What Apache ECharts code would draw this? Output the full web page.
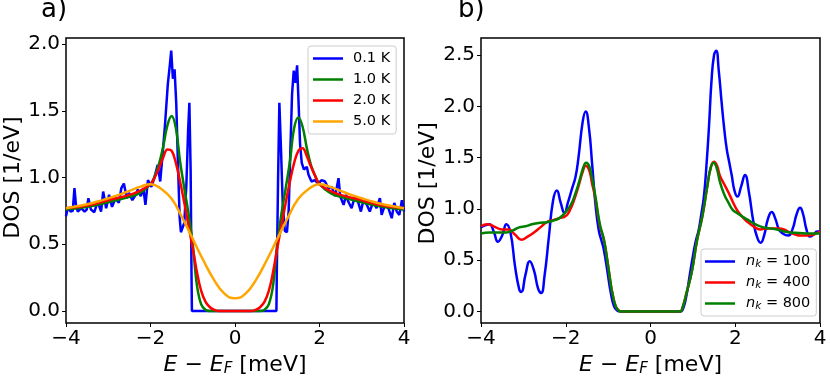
<!DOCTYPE html>
<html>
<head>
<meta charset="utf-8">
<script src="https://cdn.jsdelivr.net/npm/echarts@6.0.0/dist/echarts.min.js"></script>
<style>
  html, body { margin: 0; padding: 0; background: #fff; }
  #chart { width: 830px; height: 376px; }
</style>
</head>
<body>
<div id="chart"></div>
<script>
// ---- panel a) DOS for several temperatures ----
const tempNames = ['0.1 K', '1.0 K', '2.0 K', '5.0 K'];

const blueAX = [-4.00, -3.96, -3.89, -3.84, -3.80, -3.76, -3.72, -3.64, -3.56, -3.51, -3.47, -3.41, -3.33, -3.25, -3.17, -3.12, -3.05, -2.98, -2.91, -2.83,
  -2.75, -2.69, -2.63, -2.56, -2.51, -2.43, -2.35, -2.30, -2.23, -2.17, -2.12, -2.06, -1.98, -1.91, -1.83, -1.77, -1.72, -1.66, -1.59, -1.54,
  -1.51, -1.47, -1.43, -1.39, -1.35, -1.31, -1.28, -1.24, -1.20, -1.15, -1.11, -1.08, -1.05, -1.03, -1.02,
  0.98, 0.99, 1.02, 1.05, 1.09, 1.13, 1.18, 1.23, 1.27, 1.31, 1.35, 1.39, 1.43, 1.47, 1.50, 1.54, 1.58, 1.63, 1.70, 1.74,
  1.81, 1.89, 1.97, 2.05, 2.13, 2.21, 2.29, 2.37, 2.45, 2.49, 2.57, 2.63, 2.68, 2.76, 2.84, 2.92, 2.98, 3.04, 3.12, 3.19,
  3.27, 3.35, 3.43, 3.47, 3.55, 3.63, 3.71, 3.77, 3.83, 3.89, 3.95, 4.00];
const blueAY = [0.71, 0.77, 0.745, 0.75, 0.92, 0.78, 0.745, 0.77, 0.745, 0.76, 0.845, 0.76, 0.74, 0.82, 0.745, 0.895, 0.77, 0.87, 0.78, 0.845,
  0.81, 0.92, 0.955, 0.845, 0.885, 0.83, 0.87, 0.91, 0.86, 0.92, 0.795, 0.98, 0.93, 0.995, 1.095, 0.97, 1.15, 1.38, 1.70, 1.85,
  1.95, 1.74, 1.81, 1.55, 1.10, 0.70, 0.59, 0.58, 0.66, 0.95, 1.35, 1.56, 1.05, 0.30, 0.0,
  0.0, 0.30, 1.00, 1.56, 1.20, 0.80, 0.60, 0.59, 0.75, 1.20, 1.62, 1.80, 1.71, 1.84, 1.60, 1.25, 1.11, 1.06, 1.08, 1.02,
  0.97, 0.98, 0.955, 0.98, 0.97, 0.92, 0.93, 0.86, 0.995, 0.86, 0.795, 0.87, 0.82, 0.77, 0.86, 0.81, 0.745, 0.83, 0.795, 0.745,
  0.82, 0.77, 0.845, 0.72, 0.795, 0.77, 0.695, 0.81, 0.745, 0.72, 0.83, 0.745];

const smoothAX = [-4, -3.5, -3, -2.5, -2.25, -2, -1.9, -1.8, -1.7, -1.6, -1.5, -1.4, -1.3, -1.2, -1.1, -1, -0.9, -0.8, -0.7, -0.6, -0.5, -0.4, 0,
  0.4, 0.5, 0.6, 0.7, 0.8, 0.9, 1, 1.1, 1.2, 1.3, 1.4, 1.5, 1.6, 1.7, 1.8, 1.9, 2, 2.25, 2.5, 3, 3.5, 4];
const greenAY = [0.76, 0.78, 0.815, 0.855, 0.885, 0.95, 1.01, 1.10, 1.23, 1.39, 1.46, 1.37, 1.12, 0.92, 0.73, 0.50, 0.19, 0.05, 0.01, 0, 0, 0, 0,
  0, 0, 0, 0.01, 0.05, 0.19, 0.50, 0.73, 0.92, 1.12, 1.37, 1.45, 1.38, 1.22, 1.09, 1.01, 0.95, 0.885, 0.855, 0.815, 0.78, 0.76];
const redAY = [0.77, 0.79, 0.83, 0.87, 0.90, 0.95, 1.00, 1.07, 1.15, 1.21, 1.20, 1.11, 0.97, 0.81, 0.64, 0.47, 0.29, 0.15, 0.07, 0.03, 0.01, 0, 0,
  0, 0.01, 0.03, 0.07, 0.15, 0.29, 0.47, 0.64, 0.81, 0.97, 1.11, 1.20, 1.22, 1.16, 1.08, 1.01, 0.95, 0.90, 0.87, 0.83, 0.79, 0.77];

const orangeAX = [-4, -3.75, -3.5, -3.25, -3, -2.75, -2.5, -2.25, -2, -1.75, -1.5, -1.25, -1, -0.75, -0.5, -0.25, 0,
  0.25, 0.5, 0.75, 1, 1.25, 1.5, 1.75, 2, 2.25, 2.5, 2.75, 3, 3.25, 3.5, 3.75, 4];
const orangeAY = [0.77, 0.785, 0.80, 0.82, 0.845, 0.87, 0.90, 0.93, 0.95, 0.915, 0.84, 0.70, 0.54, 0.38, 0.235, 0.13, 0.095,
  0.13, 0.235, 0.38, 0.54, 0.70, 0.84, 0.915, 0.95, 0.93, 0.90, 0.87, 0.845, 0.82, 0.80, 0.785, 0.77];

// ---- panel b) DOS for several k-grids ----
const nkValues = ['100', '400', '800'];

const blueBX = [-4.0, -3.9, -3.8, -3.7, -3.6, -3.5, -3.4, -3.3, -3.2, -3.1, -3.05, -2.95, -2.85, -2.75, -2.65, -2.58, -2.5, -2.4, -2.3, -2.21,
  -2.12, -2.03, -1.95, -1.85, -1.77, -1.7, -1.6, -1.53, -1.45, -1.38, -1.3, -1.22, -1.15, -1.1, -1.02, -0.94, -0.86, -0.79, -0.7,
  0.7, 0.77, 0.85, 0.92, 0.98, 1.06, 1.14, 1.2, 1.26, 1.32, 1.38, 1.44, 1.5, 1.55, 1.61, 1.68, 1.74, 1.8, 1.86, 1.92, 1.98,
  2.05, 2.14, 2.23, 2.32, 2.43, 2.52, 2.6, 2.68, 2.77, 2.86, 2.95, 3.03, 3.12, 3.25, 3.35, 3.45, 3.53, 3.6, 3.68, 3.76, 3.85, 3.93, 4.0];
const blueBY = [0.82, 0.84, 0.85, 0.78, 0.68, 0.74, 0.85, 0.76, 0.45, 0.22, 0.19, 0.36, 0.49, 0.40, 0.22, 0.18, 0.35, 0.72, 1.08, 1.18,
  1.06, 0.96, 1.06, 1.20, 1.31, 1.50, 1.85, 1.95, 1.78, 1.45, 1.05, 0.79, 0.68, 0.60, 0.40, 0.19, 0.05, 0.01, 0,
  0, 0.03, 0.16, 0.34, 0.49, 0.67, 0.80, 0.95, 1.12, 1.42, 1.80, 2.25, 2.50, 2.54, 2.35, 2.03, 1.78, 1.58, 1.45, 1.32, 1.18,
  1.12, 1.22, 1.33, 1.17, 0.87, 0.72, 0.67, 0.74, 0.90, 0.97, 0.90, 0.80, 0.76, 0.74, 0.80, 0.95, 1.01, 0.95, 0.80, 0.73, 0.75, 0.78, 0.78];

const redBX = [-4.0, -3.85, -3.7, -3.5, -3.35, -3.2, -3.05, -2.9, -2.75, -2.6, -2.45, -2.3, -2.15, -2.0, -1.9, -1.8, -1.7, -1.6, -1.53, -1.45,
  -1.38, -1.3, -1.2, -1.1, -1.02, -0.95, -0.9, -0.82, -0.75, -0.7,
  0.7, 0.75, 0.85, 0.98, 1.1, 1.22, 1.34, 1.42, 1.5, 1.57, 1.64, 1.74, 1.84, 1.94, 2.04, 2.15, 2.27, 2.43, 2.59, 2.75,
  2.9, 3.05, 3.15, 3.29, 3.42, 3.53, 3.7, 3.85, 4.0];
const redBY = [0.83, 0.85, 0.83, 0.80, 0.80, 0.75, 0.70, 0.73, 0.77, 0.82, 0.87, 0.89, 0.91, 0.93, 0.99, 1.09, 1.22, 1.36, 1.42, 1.38,
  1.25, 1.10, 0.84, 0.70, 0.50, 0.30, 0.18, 0.05, 0.01, 0,
  0, 0.03, 0.18, 0.40, 0.70, 0.92, 1.22, 1.40, 1.46, 1.42, 1.32, 1.24, 1.16, 1.07, 0.99, 0.93, 0.88, 0.83, 0.80, 0.81,
  0.81, 0.81, 0.80, 0.77, 0.75, 0.74, 0.74, 0.75, 0.78];

const greenBX = [-4.0, -3.8, -3.6, -3.4, -3.25, -3.1, -2.95, -2.8, -2.6, -2.45, -2.3, -2.15, -2.0, -1.88, -1.78, -1.68, -1.58, -1.52, -1.45,
  -1.38, -1.3, -1.2, -1.1, -1.02, -0.95, -0.9, -0.82, -0.75, -0.7,
  0.7, 0.75, 0.85, 0.98, 1.1, 1.22, 1.34, 1.42, 1.49, 1.56, 1.64, 1.74, 1.84, 1.94, 2.04, 2.15, 2.27, 2.43, 2.59, 2.8,
  2.98, 3.15, 3.29, 3.5, 3.75, 4.0];
const greenBY = [0.76, 0.77, 0.77, 0.77, 0.79, 0.82, 0.83, 0.85, 0.865, 0.87, 0.885, 0.91, 0.97, 1.04, 1.14, 1.27, 1.41, 1.45, 1.42,
  1.30, 1.12, 0.86, 0.70, 0.50, 0.30, 0.18, 0.05, 0.01, 0,
  0, 0.03, 0.18, 0.40, 0.70, 0.92, 1.22, 1.40, 1.45, 1.40, 1.26, 1.14, 1.06, 0.99, 0.96, 0.93, 0.90, 0.86, 0.83, 0.81,
  0.80, 0.78, 0.77, 0.765, 0.76, 0.76];

const xTicks = [-4, 4, 2];          // min, max, step
const yTicksA = [0, 2.0, 0.5];
const yTicksB = [0, 2.5, 0.5];

const FONT = 'DejaVu Sans';
const pair = (xs, ys) => xs.map((x, i) => [x, ys[i]]);
const minus = v => (v < 0 ? '\u2212' + Math.abs(v) : String(v));

const chart = echarts.init(document.getElementById('chart'), null, { renderer: 'canvas' });

function plotX(gridIndex) {
  return {
    gridIndex: gridIndex, type: 'value', min: xTicks[0], max: xTicks[1], interval: xTicks[2],
    axisLine: { show: false, onZero: false },
    axisTick: { show: true, inside: false, length: 4, lineStyle: { color: '#000', width: 1 } },
    axisLabel: { margin: 6, color: '#000', fontFamily: FONT, fontSize: 20, formatter: minus },
    splitLine: { show: false },
    name: '{i|E} \u2212 {i|E}{s|F} [meV]', nameLocation: 'middle', nameGap: 26,
    nameTextStyle: {
      fontFamily: FONT, fontSize: 22, color: '#000',
      rich: {
        i: { fontFamily: FONT, fontSize: 22, fontStyle: 'italic', color: '#000' },
        s: { fontFamily: FONT, fontSize: 15, fontStyle: 'italic', color: '#000', padding: [9, 0, 0, 0] }
      }
    }
  };
}
function hiddenX(gridIndex) {
  return { gridIndex: gridIndex, type: 'value', min: xTicks[0], max: xTicks[1], show: false, axisLine: { onZero: false } };
}
function tickY(gridIndex, ticks) {
  return {
    gridIndex: gridIndex, type: 'value', min: ticks[0], max: ticks[1], interval: ticks[2],
    axisLine: { show: false, onZero: false },
    axisTick: { show: true, inside: false, length: 4, lineStyle: { color: '#000', width: 1 } },
    axisLabel: { margin: 6, color: '#000', fontFamily: FONT, fontSize: 20, formatter: v => v.toFixed(1) },
    splitLine: { show: false },
    name: 'DOS [1/eV]', nameLocation: 'middle', nameGap: 42, nameRotate: 90,
    nameTextStyle: { fontFamily: FONT, fontSize: 22, color: '#000' }
  };
}
function line(name, color, xIdx, yIdx, data, smooth) {
  return {
    name: name, type: 'line', xAxisIndex: xIdx, yAxisIndex: yIdx, data: data,
    color: color, showSymbol: false, symbol: 'none', smooth: smooth,
    lineStyle: { color: color, width: 2.5 }, clip: true
  };
}

const nkNames = nkValues.map(v => 'n_k = ' + v);
const legendBase = {
  orient: 'vertical', icon: 'rect', itemWidth: 30, itemHeight: 2.5, itemGap: 4,
  backgroundColor: 'rgba(255,255,255,0.8)', borderColor: '#cccccc', borderWidth: 1, borderRadius: 3,
  selectedMode: false
};
const gridBase = { outerBoundsMode: 'none', containLabel: false };

chart.setOption({
  animation: false,
  backgroundColor: '#fff',
  title: [
    { text: 'a)', left: 41, top: -3, padding: 0, textStyle: { fontFamily: FONT, fontSize: 26, fontWeight: 'normal', color: '#000' } },
    { text: 'b)', left: 458, top: -3, padding: 0, textStyle: { fontFamily: FONT, fontSize: 26, fontWeight: 'normal', color: '#000' } }
  ],
  grid: [
    Object.assign({ left: 66, top: 38, width: 338, height: 285, show: true, borderColor: '#000', borderWidth: 1.5, backgroundColor: 'transparent' }, gridBase),
    Object.assign({ left: 481, top: 38, width: 339, height: 285, show: true, borderColor: '#000', borderWidth: 1.5, backgroundColor: 'transparent' }, gridBase),
    Object.assign({ left: 66, top: 44, width: 338, height: 267 }, gridBase),
    Object.assign({ left: 481, top: 55, width: 339, height: 256.5 }, gridBase)
  ],
  xAxis: [plotX(0), plotX(1), hiddenX(2), hiddenX(3)],
  yAxis: [
    { gridIndex: 0, type: 'value', min: -0.09, max: 2.045, show: false, axisLine: { onZero: false } },
    { gridIndex: 1, type: 'value', min: -0.112, max: 2.665, show: false, axisLine: { onZero: false } },
    tickY(2, yTicksA),
    tickY(3, yTicksB)
  ],
  legend: [
    Object.assign({}, legendBase, {
      data: tempNames, left: 308, top: 46, padding: [4, 6, 4, 5],
      textStyle: { fontFamily: FONT, fontSize: 14.5, color: '#000', lineHeight: 17, padding: [0, 0, 0, 5] }
    }),
    Object.assign({}, legendBase, {
      data: nkNames, left: 701, top: 249, padding: [4, 6, 4, 4],
      formatter: name => '{i|n}{s|k} = ' + name.split('= ')[1],
      textStyle: {
        fontFamily: FONT, fontSize: 14.5, color: '#000', lineHeight: 17, padding: [0, 0, 0, 6],
        rich: {
          i: { fontFamily: FONT, fontSize: 14.5, fontStyle: 'italic', color: '#000' },
          s: { fontFamily: FONT, fontSize: 10.5, fontStyle: 'italic', color: '#000', padding: [6, 0, 0, 0] }
        }
      }
    })
  ],
  series: [
    line(tempNames[0], '#0000ff', 0, 0, pair(blueAX, blueAY), false),
    line(tempNames[1], '#008000', 0, 0, pair(smoothAX, greenAY), 0.4),
    line(tempNames[2], '#ff0000', 0, 0, pair(smoothAX, redAY), 0.4),
    line(tempNames[3], '#ffa500', 0, 0, pair(orangeAX, orangeAY), 0.5),
    line(nkNames[0], '#0000ff', 1, 1, pair(blueBX, blueBY), 0.5),
    line(nkNames[1], '#ff0000', 1, 1, pair(redBX, redBY), 0.5),
    line(nkNames[2], '#008000', 1, 1, pair(greenBX, greenBY), 0.5)
  ]
});
</script>
</body>
</html>
